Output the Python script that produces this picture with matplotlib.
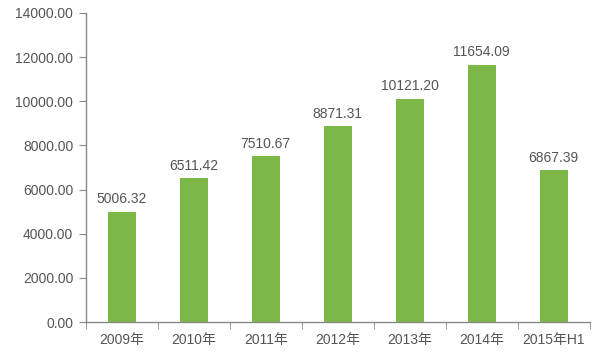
import matplotlib
matplotlib.use('Agg')
import matplotlib.pyplot as plt
from matplotlib.ticker import FixedLocator, NullFormatter

plt.rcParams['font.family'] = ['Liberation Sans', 'Noto Sans CJK SC', 'DejaVu Sans']

categories = ['2009年', '2010年', '2011年', '2012年', '2013年', '2014年', '2015年H1']
values = [5006.32, 6511.42, 7510.67, 8871.31, 10121.20, 11654.09, 6867.39]
yticks = [0, 2000, 4000, 6000, 8000, 10000, 12000, 14000]

bar_color = '#7bb848'
text_color = '#555555'
axis_color = '#888888'

fig = plt.figure(figsize=(6, 3.61), dpi=100)
ax = fig.add_axes([0.143, 0.108, 0.84, 0.856])

x = list(range(len(categories)))
ax.bar(x, values, width=0.39, color=bar_color)

# value labels above bars
for xi, v in zip(x, values):
    ax.text(xi, v + 250, f'{v:.2f}', ha='center', va='bottom',
            fontsize=10, color=text_color)

ax.set_xlim(-0.5, len(categories) - 0.5)
ax.set_ylim(0, 14000)
ax.set_yticks(yticks)
ax.set_yticklabels([f'{t:.2f}' for t in yticks])

# category labels centred, tick marks between categories
ax.set_xticks(x)
ax.set_xticklabels(categories)
ax.tick_params(axis='x', length=0, pad=8)
ax.xaxis.set_minor_locator(FixedLocator([i - 0.5 for i in range(len(categories) + 1)]))
ax.xaxis.set_minor_formatter(NullFormatter())
ax.tick_params(axis='x', which='minor', length=5, color=axis_color, direction='out')
ax.tick_params(axis='y', length=5, color=axis_color, direction='out', pad=4)
ax.tick_params(labelsize=10, labelcolor=text_color)

for side in ['top', 'right']:
    ax.spines[side].set_visible(False)
for side in ['left', 'bottom']:
    ax.spines[side].set_color(axis_color)
    ax.spines[side].set_linewidth(1)

fig.savefig('out.png', dpi=100)
